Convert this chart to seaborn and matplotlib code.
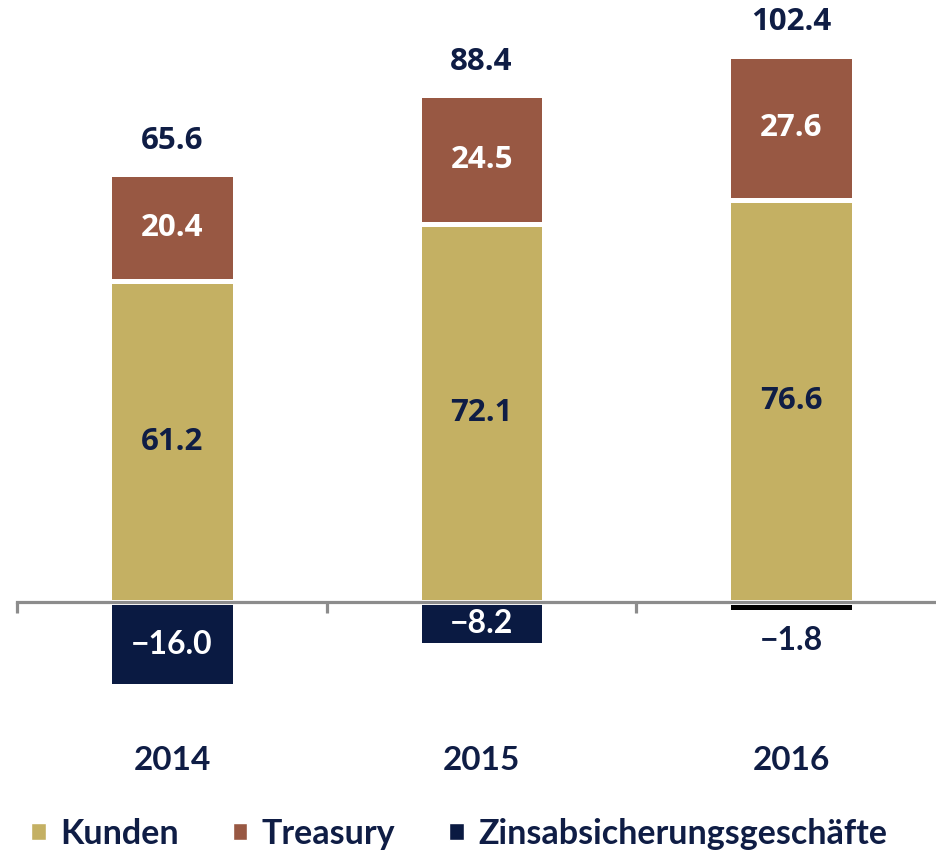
import matplotlib
matplotlib.use("Agg")
import matplotlib.pyplot as plt
import seaborn as sns
import pandas as pd
from matplotlib.patches import Patch

years = ["2014", "2015", "2016"]
kunden = [61.2, 72.1, 76.6]
treasury = [20.4, 24.5, 27.6]
zins = [-16.0, -8.2, -1.8]
totals = [65.6, 88.4, 102.4]

C_KUNDEN = "#C4B063"
C_TREAS = "#985843"
C_ZINS = "#0A1A42"
C_TEXT = "#0F1D45"

sns.set_theme(style="white")
plt.rcParams["font.family"] = ["Lato", "DejaVu Sans"]

df = pd.DataFrame({"year": years, "kunden": kunden, "treasury": treasury, "zins": zins})
df["stack"] = df["kunden"] + df["treasury"]

fig = plt.figure(figsize=(9.36, 8.56), dpi=100)
ax = fig.add_axes([0, 0, 1, 1])

W = 0.405
EW = 3.6
sns.barplot(data=df, x="year", y="stack", color=C_TREAS, saturation=1, width=W,
            edgecolor="white", linewidth=EW, ax=ax)
sns.barplot(data=df, x="year", y="kunden", color=C_KUNDEN, saturation=1, width=W,
            edgecolor="white", linewidth=EW, ax=ax)
sns.barplot(data=df, x="year", y="zins", color=C_ZINS, saturation=1, width=W,
            edgecolor="white", linewidth=EW, ax=ax)
# small negative bar appears black
ax.patches[-1].set_facecolor("#000000")

ax.set_xlim(-0.556, 2.468)
ax.set_ylim(-48.4, 114.8)
ax.set_xlabel("")
ax.set_ylabel("")
for s in ["top", "left", "right"]:
    ax.spines[s].set_visible(False)
ax.spines["bottom"].set_position(("data", 0))
ax.spines["bottom"].set_color("#8C8C8C")
ax.spines["bottom"].set_linewidth(2.3)
ax.spines["bottom"].set_bounds(-0.5, 2.6)
ax.spines["bottom"].set_zorder(5)
ax.set_yticks([])
ax.set_xticks([-0.5, 0.5, 1.5])
ax.set_xticklabels([])
ax.tick_params(axis="x", bottom=True, direction="out", length=8, width=2.3, color="#8C8C8C")

VF = ["Open Sans", "DejaVu Sans"]
fs = 22.5
for i in range(len(years)):
    ax.text(i, kunden[i] / 2, f"{kunden[i]:.1f}", ha="center", va="center",
            fontsize=fs, fontweight="bold", color=C_TEXT, family=VF)
    ax.text(i, kunden[i] + treasury[i] / 2, f"{treasury[i]:.1f}", ha="center", va="center",
            fontsize=fs, fontweight="bold", color="white", family=VF)
    ax.text(i, kunden[i] + treasury[i] + 6.4, f"{totals[i]:.1f}", ha="center", va="center",
            fontsize=fs, fontweight="bold", color=C_TEXT, family=VF)
    lab = f"\u2212{abs(zins[i]):.1f}"
    if zins[i] < -5:
        ax.text(i, zins[i] / 2, lab, ha="center", va="center",
                fontsize=23, fontweight="bold", color="white")
    else:
        ax.text(i, -7.4, lab, ha="center", va="center",
                fontsize=23, fontweight="bold", color=C_TEXT)
    ax.text(i, -30.2, years[i], ha="center", va="center",
            fontsize=24, fontweight="bold", color=C_TEXT)

handles = [Patch(facecolor=C_KUNDEN, label="Kunden"),
           Patch(facecolor=C_TREAS, label="Treasury"),
           Patch(facecolor=C_ZINS, label="Zinsabsicherungsgeschäfte")]
leg = fig.legend(handles=handles, loc="center", bbox_to_anchor=(0.4905, 0.026), ncol=3,
                 frameon=False, handlelength=0.42, handleheight=0.42, handletextpad=0.42,
                 columnspacing=1.6, prop={"family": "Lato", "weight": "bold", "size": 24.5})
for t in leg.get_texts():
    t.set_color(C_TEXT)

fig.savefig("out.png", dpi=100)
